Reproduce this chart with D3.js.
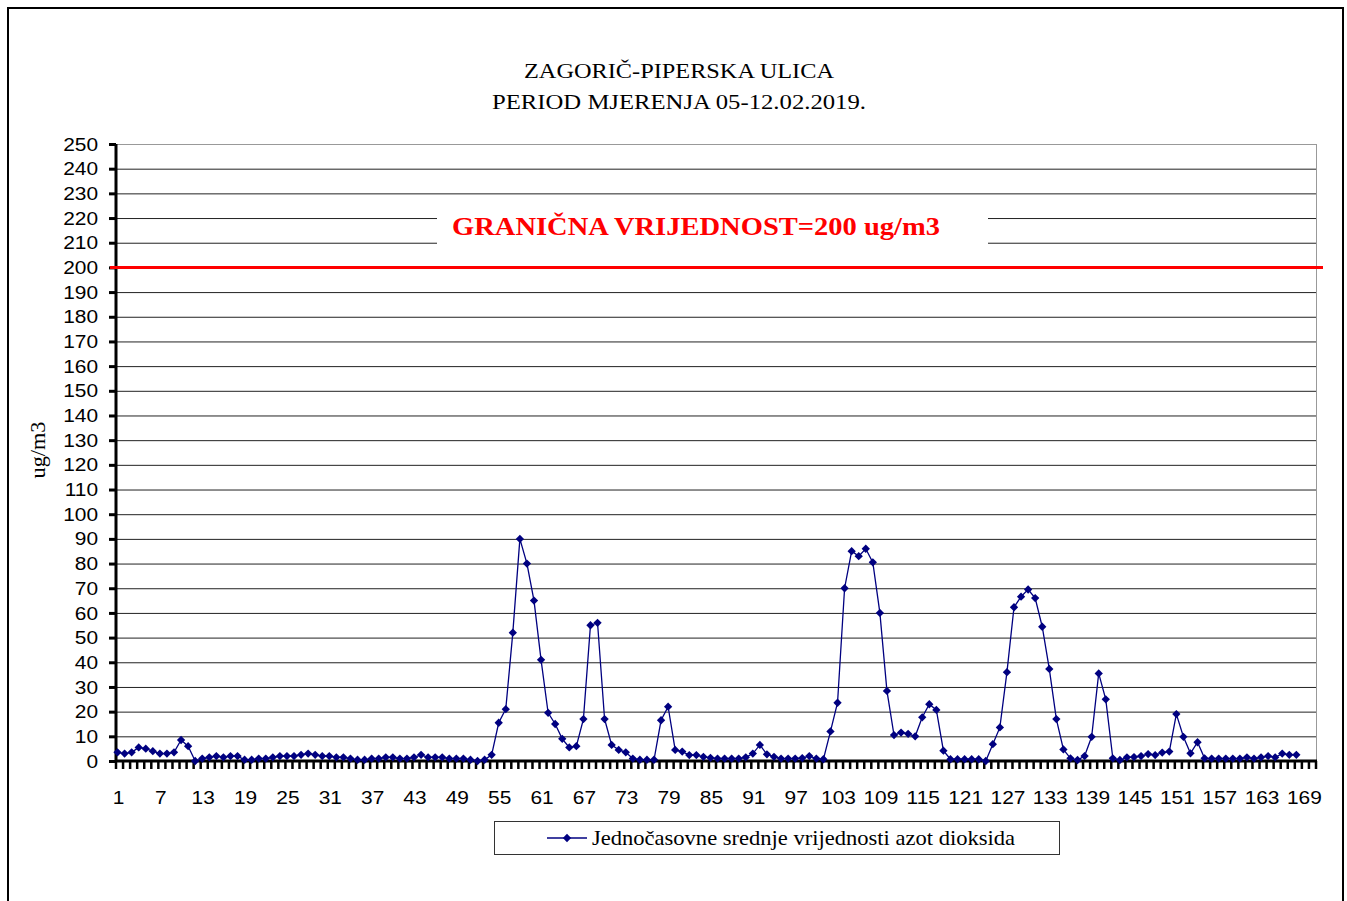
<!DOCTYPE html>
<html>
<head>
<meta charset="utf-8">
<script src="https://cdn.jsdelivr.net/npm/d3@7"></script>
<style>
  body { margin: 0; background: #fff; }
  svg { display: block; }
</style>
</head>
<body>
<script>
// Data - hourly NO2 means, 168 hours
let hourly = [
    3.5, 3, 3.5, 5.5, 5, 4, 3, 3, 3.5, 8.5, 6, 0,
    1, 1.5, 2, 1.5, 2, 2, 0.5, 0.5, 1, 1, 1.5, 2, 2, 2, 2.5, 3, 2.5, 2,
    2, 1.5, 1.5, 1, 0.5, 0.5, 1, 1, 1.5, 1.5, 1, 1, 1.5, 2.5, 1.5, 1.5, 1.5, 1, 1, 1, 0.5, 0, 0.5, 2.5,
    15.5, 21, 52, 90, 80, 65, 41, 19.5, 15, 9, 5.5, 6, 17, 55, 56, 17, 6.5, 4.5, 3.5, 1, 0.5, 0.5, 0.5, 16.5, 22, 4.5,
    3.8, 2.4, 2.4, 1.7, 1.3, 1, 1, 1, 1, 1.5, 3, 6.5, 2.7, 1.7, 1, 1, 1, 1.2, 2, 1, 0.7,
    12, 23.6, 70, 85, 83, 86, 80.5, 60, 28.4, 10.5, 11.5, 11, 10, 17.7, 23, 20.7, 4.2, 0.7, 0.7, 0.7, 0.7, 0.7, 0,
    6.8, 13.6, 36, 62.3, 66.6, 69.5, 66, 54.4, 37.3, 17, 4.7, 1.1, 0.4, 2, 9.8, 35.5, 25, 1.1, 0.4, 1.5, 1.6, 2, 2.8, 2.4, 3.4, 3.8, 19, 9.8, 3.1, 7.6, 1.1,
    1, 1, 1, 1, 1, 1.5, 1, 1.5, 2, 1.5, 3, 2.5, 2.5
]
let hours = d3.range(1, 171)              // category slots on the axis
let xLabels = d3.range(1, 170, 6)         // 1, 7, 13 ... 169
let yTicks = d3.range(0, 251, 10)
let limitValue = 200
let titleLines = ['ZAGORIČ-PIPERSKA ULICA', 'PERIOD MJERENJA 05-12.02.2019.']
let limitLabel = 'GRANIČNA VRIJEDNOST=200 ug/m3'
let seriesName = 'Jednočasovne srednje vrijednosti azot dioksida'

const W = 1347, H = 901
const plot = { left: 116, right: 1316, top: 144, bottom: 761 }
const sans = 'Liberation Sans, Arial, sans-serif'
const serif = 'Liberation Serif, Times New Roman, serif'

let svg = d3.select('body').append('svg')
    .attr('width', W)
    .attr('height', H)

// outer frame
svg.append('rect')
    .attr('x', 8).attr('y', 8)
    .attr('width', 1335).attr('height', 905)
    .attr('fill', 'none').attr('stroke', '#000').attr('stroke-width', 2)

// Scales
const xScale = d3.scaleBand()
    .domain(hours)
    .range([plot.left, plot.right])
const yScale = d3.scaleLinear()
    .domain([0, 250])
    .range([plot.bottom, plot.top])
const cx = i => xScale(i) + xScale.bandwidth() / 2 - 2

// title
svg.append('g').selectAll('text')
    .data(titleLines)
    .enter().append('text')
        .attr('x', 679)
        .attr('y', (d, i) => 78 + i * 31)
        .attr('text-anchor', 'middle')
        .attr('font-family', serif)
        .attr('font-size', 20)
        .attr('textLength', (d, i) => i === 0 ? 310 : 374)
        .attr('lengthAdjust', 'spacingAndGlyphs')
        .text(d => d)

// gridlines
svg.append('g').selectAll('line')
    .data(yTicks.filter(d => d > 0))
    .enter().append('line')
        .attr('x1', plot.left).attr('x2', plot.right)
        .attr('y1', d => yScale(d) + 0.5).attr('y2', d => yScale(d) + 0.5)
        .attr('stroke', d => d === 250 ? '#999' : '#222')
        .attr('stroke-width', 1)

// right border of plot area
svg.append('line')
    .attr('x1', plot.right + 0.5).attr('x2', plot.right + 0.5)
    .attr('y1', plot.top).attr('y2', plot.bottom)
    .attr('stroke', '#999')

// limit label with white box behind it
svg.append('rect')
    .attr('x', 437).attr('y', 206)
    .attr('width', 551).attr('height', 42)
    .attr('fill', '#fff')
svg.append('text')
    .attr('x', 696).attr('y', 235)
    .attr('text-anchor', 'middle')
    .attr('font-family', serif)
    .attr('font-weight', 'bold')
    .attr('font-size', 25)
    .attr('textLength', 488)
    .attr('lengthAdjust', 'spacingAndGlyphs')
    .attr('fill', '#ff0000')
    .text(limitLabel)

// y axis
let yAxis = svg.append('g')
    .attr('transform', `translate(${plot.left},0)`)
    .call(d3.axisLeft(yScale).tickValues(yTicks).tickSize(7).tickPadding(11))
yAxis.select('.domain').attr('stroke-width', 3).attr('d', `M0,${plot.top}V${plot.bottom}`)
yAxis.selectAll('.tick line').attr('stroke-width', 3)
yAxis.selectAll('text')
    .attr('font-family', sans)
    .attr('font-size', 19)
    .attr('transform', 'scale(1.1,1)')
    .attr('x', -19 / 1.1 * 0 - 18 / 1.1)
    .attr('fill', '#000')

// x axis ticks (one per category edge)
let xAxis = svg.append('g')
    .attr('transform', `translate(0,${plot.bottom})`)
xAxis.selectAll('line.tk')
    .data(d3.range(0, hours.length + 1))
    .enter().append('line')
        .attr('class', 'tk')
        .attr('x1', d => plot.left + d * xScale.step())
        .attr('x2', d => plot.left + d * xScale.step())
        .attr('y1', 0).attr('y2', 8)
        .attr('stroke', '#000').attr('stroke-width', 2.5)
xAxis.append('line')
    .attr('x1', plot.left - 1).attr('x2', plot.right + 1)
    .attr('y1', 0).attr('y2', 0)
    .attr('stroke', '#000').attr('stroke-width', 3)
xAxis.selectAll('text')
    .data(xLabels)
    .enter().append('text')
        .attr('transform', d => `translate(${cx(d) + 1},43) scale(1.1,1)`)
        .attr('text-anchor', 'middle')
        .attr('font-family', sans)
        .attr('font-size', 19)
        .text(d => d)

// y axis title
svg.append('text')
    .attr('transform', 'translate(45,450) rotate(-90)')
    .attr('text-anchor', 'middle')
    .attr('font-family', serif)
    .attr('font-size', 21)
    .attr('textLength', 57)
    .attr('lengthAdjust', 'spacingAndGlyphs')
    .text('ug/m3')

// limit line
svg.append('line')
    .attr('x1', plot.left - 6).attr('x2', plot.right + 7)
    .attr('y1', yScale(limitValue)).attr('y2', yScale(limitValue))
    .attr('stroke', '#ff0000').attr('stroke-width', 3)

// series
const navy = '#000080'
const line = d3.line()
    .x((d, i) => cx(i + 1))
    .y(d => yScale(d))
svg.append('path')
    .datum(hourly)
    .attr('d', line)
    .attr('fill', 'none')
    .attr('stroke', navy)
    .attr('stroke-width', 1.3)

const diamond = d3.symbol().type(d3.symbolDiamond2).size(44)
svg.append('g').selectAll('path')
    .data(hourly)
    .enter().append('path')
        .attr('d', diamond)
        .attr('transform', (d, i) => `translate(${cx(i + 1)},${yScale(d)})`)
        .attr('fill', navy)

// legend
let legend = svg.append('g')
legend.append('rect')
    .attr('x', 494.5).attr('y', 821.5)
    .attr('width', 565).attr('height', 33)
    .attr('fill', '#fff').attr('stroke', '#333').attr('stroke-width', 1)
legend.append('line')
    .attr('x1', 547).attr('x2', 587)
    .attr('y1', 838).attr('y2', 838)
    .attr('stroke', navy).attr('stroke-width', 1.3)
legend.append('path')
    .attr('d', diamond)
    .attr('transform', 'translate(567,838)')
    .attr('fill', navy)
legend.append('text')
    .attr('x', 592).attr('y', 845)
    .attr('font-family', serif)
    .attr('font-size', 21)
    .attr('textLength', 423)
    .attr('lengthAdjust', 'spacingAndGlyphs')
    .text(seriesName)
</script>
</body>
</html>
